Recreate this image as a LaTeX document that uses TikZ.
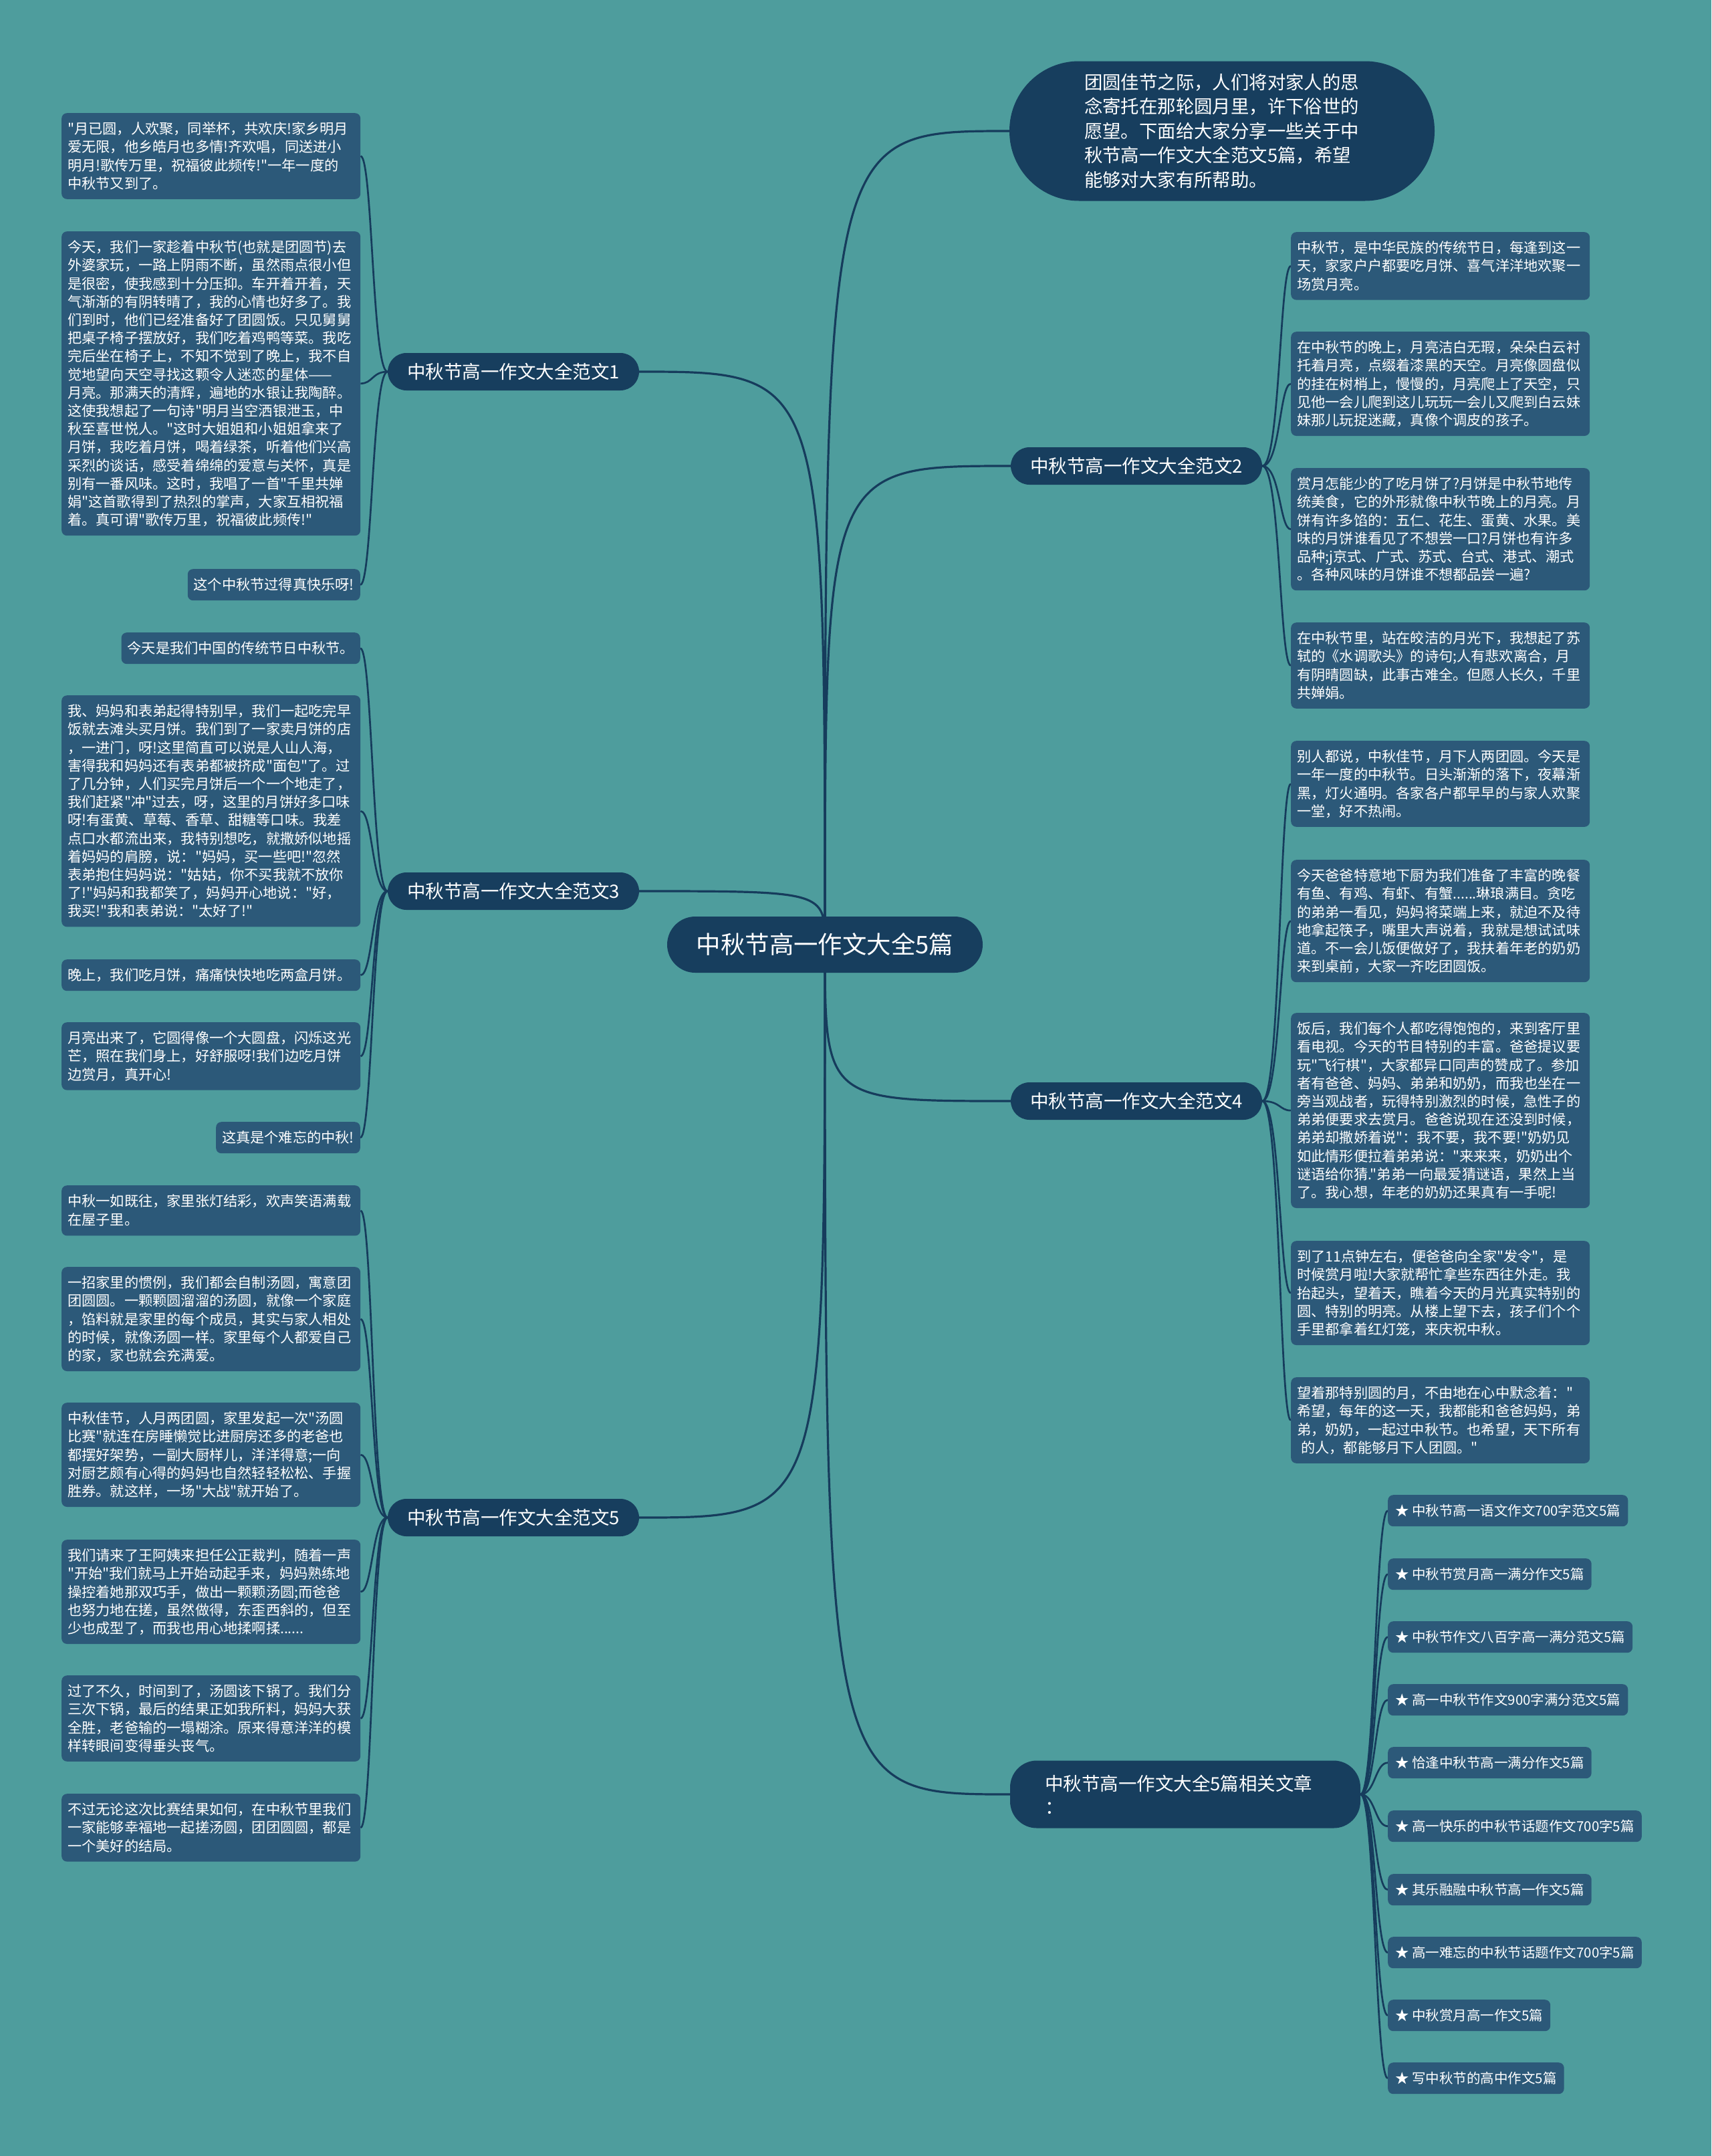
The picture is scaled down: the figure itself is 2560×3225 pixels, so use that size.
\documentclass[tikz,border=0pt]{standalone}
\usepackage{fontspec}
\newfontfamily\cjk{Noto Sans CJK SC}
\usetikzlibrary{calc}
\definecolor{bgc}{RGB}{78,157,157}
\definecolor{leafc}{RGB}{44,89,121}
\definecolor{navy}{RGB}{23,62,94}
\definecolor{linec}{RGB}{22,60,92}
\pgfdeclarelayer{bg}
\pgfsetlayers{bg,main}
\newcommand\mystrut{\vrule width0pt height21.6pt depth5.6pt}
\newcommand\lconL[2]{\draw[lconn] (#1.west) .. controls ($(#1.west)+(-23,0)$) and ($(#2.east)+(18,0)$) .. (#2.east);}
\newcommand\lconR[2]{\draw[lconn] (#1.east) .. controls ($(#1.east)+(27,0)$) and ($(#2.west)+(-17,0)$) .. (#2.west);}
\newcommand\lconS[2]{\draw[lconn] (#1.east) .. controls ($(#1.east)+(22,0)$) and ($(#2.west)+(-19,0)$) .. (#2.west);}
\begin{document}
\begin{tikzpicture}[x=1pt,y=-1pt,
  leaf/.style={fill=leafc, rounded corners=8pt, text=white, font={\cjk\fontsize{21.2}{27.2}\selectfont}, inner xsep=9pt, inner ysep=9.9pt, execute at begin node=\mystrut, execute at end node=\mystrut},
  leafw/.style={leaf, text width=429pt, align=left},
  leafL/.style={leafw, anchor=north west},
  leafS/.style={leaf, anchor=north east},
  leafR/.style={leafw, anchor=north west},
  relleaf/.style={leaf, font={\cjk\fontsize{20.5}{27.2}\selectfont}, inner xsep=11pt, anchor=north west},
  branch/.style={fill=navy, rounded corners=28pt, text=white, font={\cjk\fontsize{27.5}{33}\selectfont}, minimum width=376pt, minimum height=56pt, inner sep=0pt, text height=22pt, text depth=1.5pt},
  cnode/.style={fill=navy, rounded corners=42pt, text=white, font={\cjk\fontsize{36.4}{40}\selectfont}, minimum width=472pt, minimum height=84pt, inner sep=0pt, text height=29pt, text depth=1.5pt},
  bubble/.style={fill=navy, rounded corners=104pt, text=white, font={\cjk\fontsize{27.4}{36.5}\selectfont}, minimum width=636pt, minimum height=209pt, text width=412pt, align=left, inner sep=0pt},
  relb/.style={fill=navy, rounded corners=40pt, text=white, font={\cjk\fontsize{27.5}{35}\selectfont}, minimum width=524pt, minimum height=101pt, text width=420pt, align=left, inner sep=0pt},
  conn/.style={draw=linec, line width=3.2pt},
  lconn/.style={draw=linec, line width=2.7pt}
]
\useasboundingbox (0,0) rectangle (2560,3225);

% central and branch nodes
\node[cnode] (c) at (1234,1413) {中秋节高一作文大全5篇};
\node[bubble] (tb) at (1828,196) {团圆佳节之际，人们将对家人的思\\念寄托在那轮圆月里，许下俗世的\\愿望。下面给大家分享一些关于中\\秋节高一作文大全范文5篇，希望\\能够对大家有所帮助。};
\node[branch] (b1) at (768,556) {中秋节高一作文大全范文1};
\node[branch] (b3) at (768,1333) {中秋节高一作文大全范文3};
\node[branch] (b5) at (768,2270) {中秋节高一作文大全范文5};
\node[branch] (b2) at (1700,697) {中秋节高一作文大全范文2};
\node[branch] (b4) at (1700,1647) {中秋节高一作文大全范文4};
\node[relb] (br) at (1773,2684) {中秋节高一作文大全5篇相关文章\\：};

% left leaves, branch 1
\node[leafL] (l1a) at (92,169) {"月已圆，人欢聚，同举杯，共欢庆!家乡明月\\爱无限，他乡皓月也多情!齐欢唱，同送进小\\明月!歌传万里，祝福彼此频传!"一年一度的\\中秋节又到了。};
\node[leafL] (l1b) at (92,346) {今天，我们一家趁着中秋节(也就是团圆节)去\\外婆家玩，一路上阴雨不断，虽然雨点很小但\\是很密，使我感到十分压抑。车开着开着，天\\气渐渐的有阴转晴了，我的心情也好多了。我\\们到时，他们已经准备好了团圆饭。只见舅舅\\把桌子椅子摆放好，我们吃着鸡鸭等菜。我吃\\完后坐在椅子上，不知不觉到了晚上，我不自\\觉地望向天空寻找这颗令人迷恋的星体——\\月亮。那满天的清辉，遍地的水银让我陶醉。\\这使我想起了一句诗"明月当空洒银泄玉，中\\秋至喜世悦人。"这时大姐姐和小姐姐拿来了\\月饼，我吃着月饼，喝着绿茶，听着他们兴高\\采烈的谈话，感受着绵绵的爱意与关怀，真是\\别有一番风味。这时，我唱了一首"千里共婵\\娟"这首歌得到了热烈的掌声，大家互相祝福\\着。真可谓"歌传万里，祝福彼此频传!"};
\node[leafS] (l1c) at (539,851) {这个中秋节过得真快乐呀!};

% left leaves, branch 3
\node[leafS] (l3a) at (539,946) {今天是我们中国的传统节日中秋节。};
\node[leafL] (l3b) at (92,1040) {我、妈妈和表弟起得特别早，我们一起吃完早\\饭就去滩头买月饼。我们到了一家卖月饼的店\\，一进门，呀!这里简直可以说是人山人海，\\害得我和妈妈还有表弟都被挤成"面包"了。过\\了几分钟，人们买完月饼后一个一个地走了，\\我们赶紧"冲"过去，呀，这里的月饼好多口味\\呀!有蛋黄、草莓、香草、甜糖等口味。我差\\点口水都流出来，我特别想吃，就撒娇似地摇\\着妈妈的肩膀，说："妈妈，买一些吧!"忽然\\表弟抱住妈妈说："姑姑，你不买我就不放你\\了!"妈妈和我都笑了，妈妈开心地说："好，\\我买!"我和表弟说："太好了!"};
\node[leafL] (l3c) at (92,1435) {晚上，我们吃月饼，痛痛快快地吃两盒月饼。};
\node[leafL] (l3d) at (92,1529) {月亮出来了，它圆得像一个大圆盘，闪烁这光\\芒，照在我们身上，好舒服呀!我们边吃月饼\\边赏月，真开心!};
\node[leafS] (l3e) at (539,1678) {这真是个难忘的中秋!};

% left leaves, branch 5
\node[leafL] (l5a) at (92,1773) {中秋一如既往，家里张灯结彩，欢声笑语满载\\在屋子里。};
\node[leafL] (l5b) at (92,1895) {一招家里的惯例，我们都会自制汤圆，寓意团\\团圆圆。一颗颗圆溜溜的汤圆，就像一个家庭\\，馅料就是家里的每个成员，其实与家人相处\\的时候，就像汤圆一样。家里每个人都爱自己\\的家，家也就会充满爱。};
\node[leafL] (l5c) at (92,2098) {中秋佳节，人月两团圆，家里发起一次"汤圆\\比赛"就连在房睡懒觉比进厨房还多的老爸也\\都摆好架势，一副大厨样儿，洋洋得意;一向\\对厨艺颇有心得的妈妈也自然轻轻松松、手握\\胜券。就这样，一场"大战"就开始了。};
\node[leafL] (l5d) at (92,2303) {我们请来了王阿姨来担任公正裁判，随着一声\\"开始"我们就马上开始动起手来，妈妈熟练地\\操控着她那双巧手，做出一颗颗汤圆;而爸爸\\也努力地在搓，虽然做得，东歪西斜的，但至\\少也成型了，而我也用心地揉啊揉......};
\node[leafL] (l5e) at (92,2506) {过了不久，时间到了，汤圆该下锅了。我们分\\三次下锅，最后的结果正如我所料，妈妈大获\\全胜，老爸输的一塌糊涂。原来得意洋洋的模\\样转眼间变得垂头丧气。};
\node[leafL] (l5f) at (92,2683) {不过无论这次比赛结果如何，在中秋节里我们\\一家能够幸福地一起搓汤圆，团团圆圆，都是\\一个美好的结局。};

% right leaves, branch 2
\node[leafR] (r2a) at (1931,347) {中秋节，是中华民族的传统节日，每逢到这一\\天，家家户户都要吃月饼、喜气洋洋地欢聚一\\场赏月亮。};
\node[leafR] (r2b) at (1931,496) {在中秋节的晚上，月亮洁白无瑕，朵朵白云衬\\托着月亮，点缀着漆黑的天空。月亮像圆盘似\\的挂在树梢上，慢慢的，月亮爬上了天空，只\\见他一会儿爬到这儿玩玩一会儿又爬到白云妹\\妹那儿玩捉迷藏，真像个调皮的孩子。};
\node[leafR] (r2c) at (1931,700) {赏月怎能少的了吃月饼了?月饼是中秋节地传\\统美食，它的外形就像中秋节晚上的月亮。月\\饼有许多馅的：五仁、花生、蛋黄、水果。美\\味的月饼谁看见了不想尝一口?月饼也有许多\\品种;j京式、广式、苏式、台式、港式、潮式\\。各种风味的月饼谁不想都品尝一遍?};
\node[leafR] (r2d) at (1931,931) {在中秋节里，站在皎洁的月光下，我想起了苏\\轼的《水调歌头》的诗句;人有悲欢离合，月\\有阴晴圆缺，此事古难全。但愿人长久，千里\\共婵娟。};

% right leaves, branch 4
\node[leafR] (r4a) at (1931,1108) {别人都说，中秋佳节，月下人两团圆。今天是\\一年一度的中秋节。日头渐渐的落下，夜幕渐\\黑，灯火通明。各家各户都早早的与家人欢聚\\一堂，好不热闹。};
\node[leafR] (r4b) at (1931,1286) {今天爸爸特意地下厨为我们准备了丰富的晚餐\\有鱼、有鸡、有虾、有蟹......琳琅满目。贪吃\\的弟弟一看见，妈妈将菜端上来，就迫不及待\\地拿起筷子，嘴里大声说着，我就是想试试味\\道。不一会儿饭便做好了，我扶着年老的奶奶\\来到桌前，大家一齐吃团圆饭。};
\node[leafR] (r4c) at (1931,1515) {饭后，我们每个人都吃得饱饱的，来到客厅里\\看电视。今天的节目特别的丰富。爸爸提议要\\玩"飞行棋"，大家都异口同声的赞成了。参加\\者有爸爸、妈妈、弟弟和奶奶，而我也坐在一\\旁当观战者，玩得特别激烈的时候，急性子的\\弟弟便要求去赏月。爸爸说现在还没到时候，\\弟弟却撒娇着说"：我不要，我不要!"奶奶见\\如此情形便拉着弟弟说："来来来，奶奶出个\\谜语给你猜."弟弟一向最爱猜谜语，果然上当\\了。我心想，年老的奶奶还果真有一手呢!};
\node[leafR] (r4d) at (1931,1856) {到了11点钟左右，便爸爸向全家"发令"，是\\时候赏月啦!大家就帮忙拿些东西往外走。我\\抬起头，望着天，瞧着今天的月光真实特别的\\圆、特别的明亮。从楼上望下去，孩子们个个\\手里都拿着红灯笼，来庆祝中秋。};
\node[leafR] (r4e) at (1931,2060) {望着那特别圆的月，不由地在心中默念着："\\希望，每年的这一天，我都能和爸爸妈妈，弟\\弟，奶奶，一起过中秋节。也希望，天下所有\\\hspace*{6pt}的人，都能够月下人团圆。"};

% related articles
\node[relleaf] (s1) at (2076,2236) {★ 中秋节高一语文作文700字范文5篇};
\node[relleaf] (s2) at (2076,2331) {★ 中秋节赏月高一满分作文5篇};
\node[relleaf] (s3) at (2076,2425) {★ 中秋节作文八百字高一满分范文5篇};
\node[relleaf] (s4) at (2076,2519) {★ 高一中秋节作文900字满分范文5篇};
\node[relleaf] (s5) at (2076,2613) {★ 恰逢中秋节高一满分作文5篇};
\node[relleaf] (s6) at (2076,2708) {★ 高一快乐的中秋节话题作文700字5篇};
\node[relleaf] (s7) at (2076,2803) {★ 其乐融融中秋节高一作文5篇};
\node[relleaf] (s8) at (2076,2897) {★ 高一难忘的中秋节话题作文700字5篇};
\node[relleaf] (s9) at (2076,2991) {★ 中秋赏月高一作文5篇};
\node[relleaf] (s10) at (2076,3085) {★ 写中秋节的高中作文5篇};

\begin{pgfonlayer}{bg}
\fill[bgc] (0,0) rectangle (2560,3225);
% center to branches
\draw[conn] (c.center) .. controls (c.center |- tb.west) .. (tb.west);
\draw[conn] (c.center) .. controls (c.center |- b1.east) .. (b1.east);
\draw[conn] (c.center) .. controls (c.center |- b3.east) .. (b3.east);
\draw[conn] (c.center) .. controls (c.center |- b5.east) .. (b5.east);
\draw[conn] (c.center) .. controls (c.center |- b2.west) .. (b2.west);
\draw[conn] (c.center) .. controls (c.center |- b4.west) .. (b4.west);
\draw[conn] (c.center) .. controls (c.center |- br.west) .. (br.west);
% branch to leaves
\lconL{b1}{l1a}\lconL{b1}{l1b}\lconL{b1}{l1c}
\lconL{b3}{l3a}\lconL{b3}{l3b}\lconL{b3}{l3c}\lconL{b3}{l3d}\lconL{b3}{l3e}
\lconL{b5}{l5a}\lconL{b5}{l5b}\lconL{b5}{l5c}\lconL{b5}{l5d}\lconL{b5}{l5e}\lconL{b5}{l5f}
\lconR{b2}{r2a}\lconR{b2}{r2b}\lconR{b2}{r2c}\lconR{b2}{r2d}
\lconR{b4}{r4a}\lconR{b4}{r4b}\lconR{b4}{r4c}\lconR{b4}{r4d}\lconR{b4}{r4e}
\lconS{br}{s1}\lconS{br}{s2}\lconS{br}{s3}\lconS{br}{s4}\lconS{br}{s5}
\lconS{br}{s6}\lconS{br}{s7}\lconS{br}{s8}\lconS{br}{s9}\lconS{br}{s10}
\end{pgfonlayer}
\end{tikzpicture}
\end{document}
